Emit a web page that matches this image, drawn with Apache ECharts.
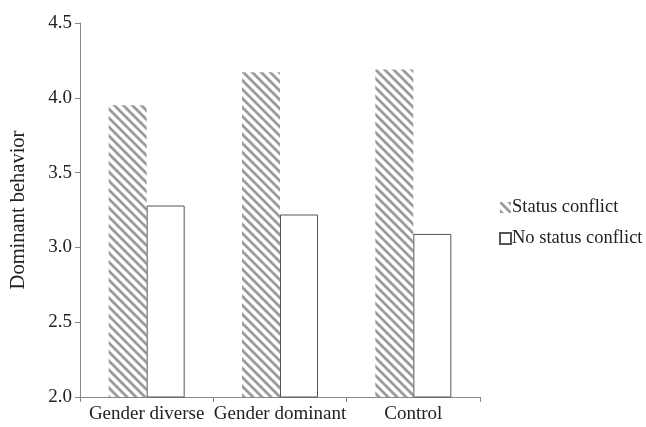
<!DOCTYPE html>
<html><head><meta charset="utf-8">
<script src="https://cdn.jsdelivr.net/npm/echarts@6/dist/echarts.min.js"></script>
<style>html,body{margin:0;padding:0;background:#fff}#c{width:646px;height:427px}</style>
</head><body><div id="c"></div>
<script>
const categories = ['Gender diverse', 'Gender dominant', 'Control'];
const statusConflict = [3.95, 4.17, 4.19];
const noStatusConflict = [3.28, 3.22, 3.09];
const seriesNames = ['Status conflict', 'No status conflict'];
const yTicks = [2.0, 2.5, 3.0, 3.5, 4.0, 4.5];

function hatch() {
  const s = 9;
  const c = document.createElement('canvas');
  c.width = s; c.height = s;
  const g = c.getContext('2d');
  g.fillStyle = '#fff'; g.fillRect(0, 0, s, s);
  g.strokeStyle = '#9a9a9a'; g.lineWidth = 2.8;
  g.beginPath();
  g.moveTo(-2, -2); g.lineTo(s + 2, s + 2);
  g.moveTo(-3, s - 3); g.lineTo(3, s + 3);
  g.moveTo(s - 3, -3); g.lineTo(s + 3, 3);
  g.stroke();
  return c;
}
const pat = { image: hatch(), repeat: 'repeat' };
const font = 'Liberation Serif';
const chart = echarts.init(document.getElementById('c'));
chart.setOption({
  animation: false,
  grid: { left: 80, right: 166, top: 23, bottom: 30 },
  legend: {
    orient: 'vertical', left: 494, top: 193, itemGap: 12,
    itemWidth: 11, itemHeight: 11,
    textStyle: { fontFamily: font, fontSize: 18.5, color: '#222', padding: [0, 0, 0, -4] },
    data: [
      { name: seriesNames[0], icon: 'rect' },
      { name: seriesNames[1], icon: 'rect' }
    ]
  },
  xAxis: {
    type: 'category', data: categories,
    axisLine: { lineStyle: { color: '#888', width: 1 } },
    axisTick: { show: true, alignWithLabel: false, length: 5, lineStyle: { color: '#888' } },
    axisLabel: { fontFamily: font, fontSize: 19, color: '#222', margin: 8, interval: 0 }
  },
  yAxis: {
    type: 'value', min: 2.0, max: 4.5, interval: 0.5,
    name: 'Dominant behavior', nameLocation: 'middle', nameGap: 51,
    nameTextStyle: { fontFamily: font, fontSize: 20.5, color: '#222' },
    axisLine: { show: true, lineStyle: { color: '#888', width: 1 } },
    axisTick: { show: true, length: 5, lineStyle: { color: '#888' } },
    splitLine: { show: false },
    axisLabel: { fontFamily: font, fontSize: 19, color: '#222', margin: 8,
      formatter: v => yTicks.includes(v) ? v.toFixed(1) : '' }
  },
  series: [
    { name: seriesNames[0], type: 'bar', data: statusConflict, barWidth: 38, barGap: '0%',
      itemStyle: { color: pat, borderWidth: 0 } },
    { name: seriesNames[1], type: 'bar', data: noStatusConflict, barWidth: 38,
      itemStyle: { color: '#fff', borderColor: '#555', borderWidth: 1 } }
  ]
});
</script></body></html>
